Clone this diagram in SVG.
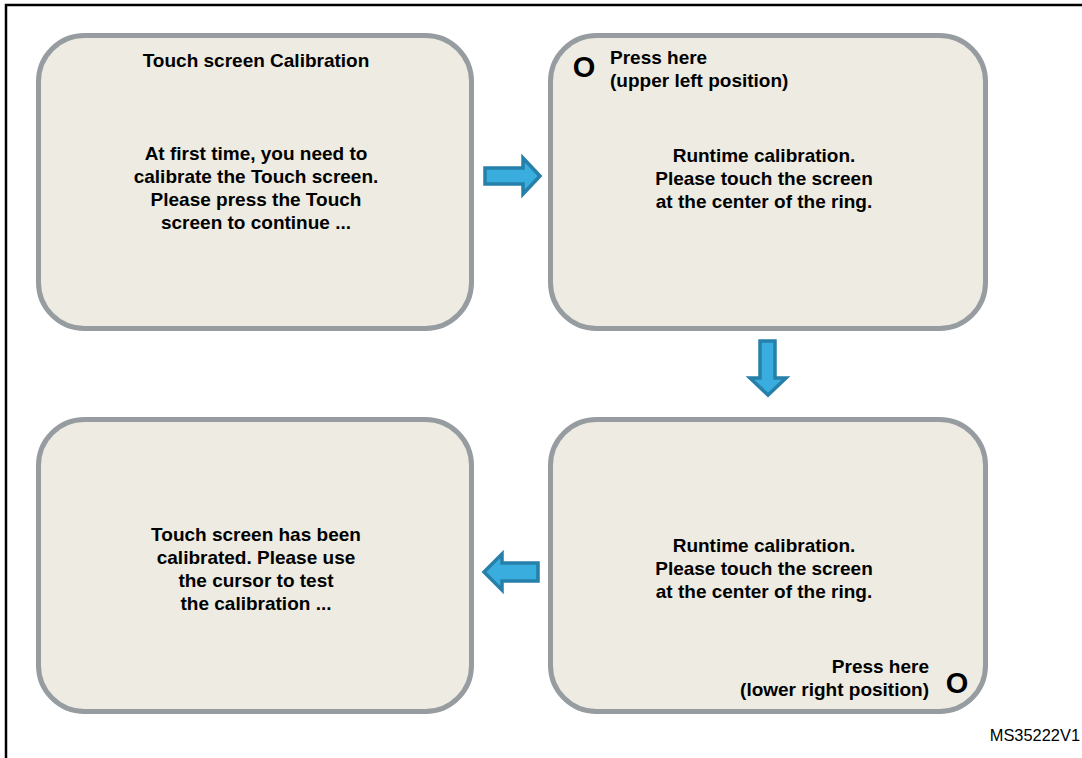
<svg xmlns="http://www.w3.org/2000/svg" width="1082" height="758" viewBox="0 0 1082 758">
  <style>
    .screen { fill: #edebe2; stroke: #979ca1; stroke-width: 5; }
    .t { font-family: "Liberation Sans", Arial, sans-serif; font-weight: bold; font-size: 19px; fill: #000; }
    .c { text-anchor: middle; }
    .r { text-anchor: end; }
    .ring { font-family: "Liberation Sans", Arial, sans-serif; font-weight: bold; font-size: 29px; fill: #000; text-anchor: middle; }
    .arrow { fill: #3aaddf; stroke: #2680a9; stroke-width: 3.5; stroke-linejoin: miter; }
    .ref { font-family: "Liberation Sans", Arial, sans-serif; font-size: 16.4px; fill: #000; text-anchor: end; }
  </style>
  <rect width="1082" height="758" fill="#ffffff"/>
  <!-- frame -->
  <path d="M6 758 V5 H1082" fill="none" stroke="#000" stroke-width="2.5"/>

  <g id="screen-intro">
    <rect class="screen" x="38.5" y="35.5" width="433" height="293" rx="46"/>
    <text class="t c" x="256" y="67">Touch screen Calibration</text>
    <text class="t c" x="256" y="160">At first time, you need to</text>
    <text class="t c" x="256" y="183">calibrate the Touch screen.</text>
    <text class="t c" x="256" y="206">Please press the Touch</text>
    <text class="t c" x="256" y="229">screen to continue ...</text>
  </g>

  <g id="screen-upper-left">
    <rect class="screen" x="550.5" y="35.5" width="435" height="293" rx="46"/>
    <text class="ring" x="584" y="77">O</text>
    <text class="t" x="610" y="64">Press here</text>
    <text class="t" x="610" y="87">(upper left position)</text>
    <text class="t c" x="764" y="162">Runtime calibration.</text>
    <text class="t c" x="764" y="185">Please touch the screen</text>
    <text class="t c" x="764" y="208">at the center of the ring.</text>
  </g>

  <g id="screen-lower-right">
    <rect class="screen" x="550.5" y="419.5" width="435" height="292" rx="46"/>
    <text class="t c" x="764" y="552">Runtime calibration.</text>
    <text class="t c" x="764" y="575">Please touch the screen</text>
    <text class="t c" x="764" y="598">at the center of the ring.</text>
    <text class="t r" x="929" y="673">Press here</text>
    <text class="t r" x="929" y="696">(lower right position)</text>
    <text class="ring" x="957" y="693">O</text>
  </g>

  <g id="screen-done">
    <rect class="screen" x="38.5" y="419.5" width="433" height="292" rx="46"/>
    <text class="t c" x="256" y="541">Touch screen has been</text>
    <text class="t c" x="256" y="564">calibrated. Please use</text>
    <text class="t c" x="256" y="587">the cursor to test</text>
    <text class="t c" x="256" y="610">the calibration ...</text>
  </g>

  <g id="connectors">
    <polygon class="arrow" points="485,168 523,168 523,158 540,176 523,194 523,184 485,184"/>
    <polygon class="arrow" points="760,341 775,341 775,378 786,378 768,395 750,378 760,378"/>
    <polygon class="arrow" points="538,563 502,563 502,554 484,572 502,590 502,581 538,581"/>
  </g>

  <text class="ref" x="1080" y="741">MS35222V1</text>
</svg>
